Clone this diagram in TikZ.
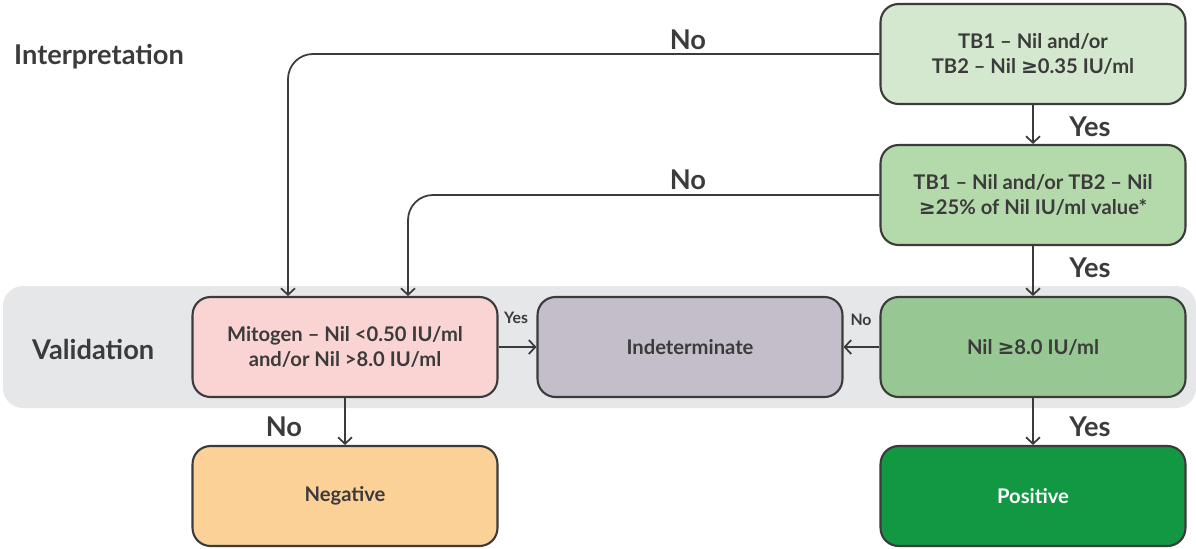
\documentclass[tikz,border=0pt]{standalone}
\usepackage{fontspec}
\setmainfont{Lato}
\newfontfamily\symfam{DejaVu Sans}
\newcommand{\geqsym}{{\symfam ≥}}
\usetikzlibrary{arrows.meta}

\definecolor{txt}{HTML}{3B3B3B}
\definecolor{band}{HTML}{E6E7E9}
\definecolor{tbone}{HTML}{D4E8CF}
\definecolor{tbtwo}{HTML}{B4DAAB}
\definecolor{nilc}{HTML}{97C893}
\definecolor{posc}{HTML}{129743}
\definecolor{mitc}{HTML}{F9D4D3}
\definecolor{indc}{HTML}{C3BEC9}
\definecolor{negc}{HTML}{FCD198}

\tikzset{
  box/.style = {draw=txt, line width=1.2pt, rounded corners=0.36cm, minimum width=6.1cm,
                minimum height=2cm, align=center, text=txt, font=\fontsize{11.5}{14}\selectfont\bfseries},
  flow/.style = {draw=txt, line width=1pt, -{Straight Barb[length=1.3mm, width=2.8mm]}},
  bigtag/.style = {text=txt, font=\fontsize{15.5}{17}\selectfont\bfseries},
  smalltag/.style = {text=txt, font=\fontsize{9}{10}\selectfont\bfseries}
}

\begin{document}
\begin{tikzpicture}[x=0.02cm, y=-0.02cm]
\useasboundingbox (0,0) rectangle (1196,548);

\fill[band, rounded corners=0.4cm] (3,286) rectangle (1196,408); % validation band

\node[bigtag, anchor=west] (interp) at (8,57) {Interpretation}; % row label
\node[bigtag, anchor=west] (valid) at (26,349) {Validation}; % row label

\node[box, fill=tbone] (tbA) at (1033,54) {TB1 -- Nil and/or\\TB2 -- Nil \geqsym0.35 IU/ml}; % first test
\node[box, fill=tbtwo] (tbB) at (1033,195) {TB1 -- Nil and/or TB2 -- Nil\\\geqsym25\% of Nil IU/ml value*}; % second test
\node[box, fill=nilc] (nil) at (1033,347) {Nil \geqsym8.0 IU/ml}; % nil check
\node[box, fill=posc, text=white] (pos) at (1033,496) {Positive}; % positive
\node[box, fill=mitc] (mito) at (345,347) {Mitogen -- Nil <0.50 IU/ml\\and/or Nil >8.0 IU/ml}; % mitogen check
\node[box, fill=indc] (indet) at (690,347) {Indeterminate}; % indeterminate
\node[box, fill=negc] (neg) at (345,496) {Negative}; % negative

\coordinate (inA) at (288,296); % entry from first test
\coordinate (inB) at (408,296); % entry from second test

\draw[flow, rounded corners=0.5cm] (tbA.west) -| (inA); % No, first test
\draw[flow, rounded corners=0.5cm] (tbB.west) -| (inB); % No, second test
\draw[flow] (tbA) -- (tbB); % Yes
\draw[flow] (tbB) -- (nil); % Yes
\draw[flow] (nil) -- (pos); % Yes
\draw[flow] (nil) -- (indet); % No
\draw[flow] (mito) -- (indet); % Yes
\draw[flow] (mito) -- (neg); % No

\node[bigtag] (noA) at (688,40) {No};
\node[bigtag] (noB) at (688,180) {No};
\node[bigtag] (yesA) at (1090,127) {Yes};
\node[bigtag] (yesB) at (1090,268) {Yes};
\node[bigtag] (yesC) at (1090,427) {Yes};
\node[bigtag] (noC) at (284,427) {No};
\node[smalltag] (yesD) at (516,318) {Yes};
\node[smalltag] (noD) at (861,320) {No};

\end{tikzpicture}
\end{document}
